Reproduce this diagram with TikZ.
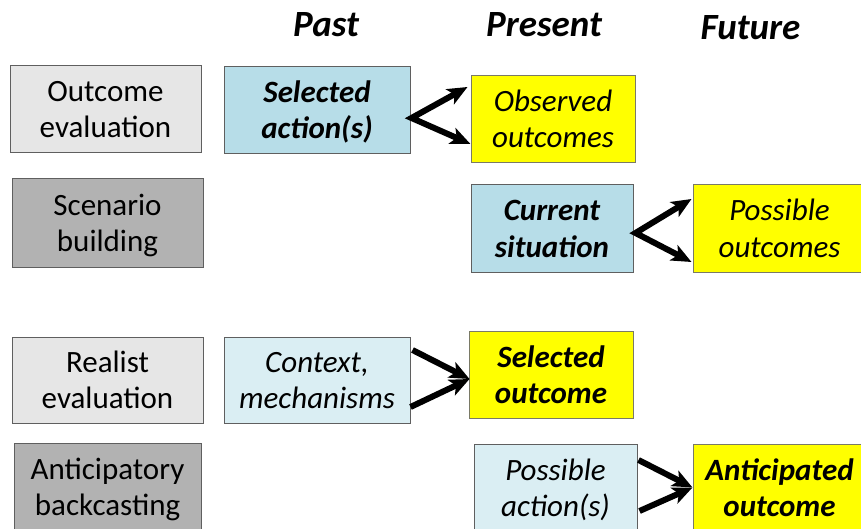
\documentclass[tikz,border=0pt]{standalone}
\usepackage{fontspec}
\setmainfont{Carlito}
\usetikzlibrary{arrows.meta}
\definecolor{lgray}{HTML}{E6E6E6}
\definecolor{dgray}{HTML}{B2B2B2}
\definecolor{mblue}{HTML}{B7DDE8}
\definecolor{lblue}{HTML}{DAEEF3}
\definecolor{ylw}{HTML}{FFFF00}
\definecolor{bord}{HTML}{5F5F5F}
\definecolor{ybord}{HTML}{7A7A66}
\newcommand{\twol}[2]{\rule{0pt}{29pt}#1\\#2\rule[-8pt]{0pt}{0pt}}
\tikzset{
  box/.style={draw=bord, line width=1pt, inner sep=0pt, align=center,
    font=\fontsize{31}{36}\selectfont},
  ybox/.style={box, draw=ybord, fill=ylw},
  bi/.style={font=\fontsize{31}{36}\selectfont\bfseries\itshape},
  it/.style={font=\fontsize{31}{36}\selectfont\itshape},
  hdr/.style={anchor=base, inner sep=0pt, font=\fontsize{37}{40}\selectfont\bfseries\itshape},
  tip/.style={Stealth[length=20pt,width=17pt,inset=5pt]},
  arr/.style={line width=6pt, -{Stealth[length=20pt,width=17pt,inset=5pt]}},
  dbl/.style={line width=6pt, {Stealth[length=20pt,width=17pt,inset=5pt]}-{Stealth[length=20pt,width=17pt,inset=5pt]}, line join=miter}
}
\begin{document}
\begin{tikzpicture}[x=1pt,y=-1pt]
\useasboundingbox (0,0) rectangle (861,529);
\clip (0,0) rectangle (861,529);
% headers
\node[hdr] (past) at (326,37) {Past};
\node[hdr] (present) at (544,37) {Present};
\node[hdr] (future) at (750.5,39.5) {Future};
% row 1
\node[box, fill=lgray, minimum width=191pt, minimum height=87pt] (oe) at (105.5,109.5) {\twol{Outcome}{evaluation}};
\node[box, bi, fill=mblue, minimum width=186pt, minimum height=87pt] (sa) at (317,110.5) {\twol{Selected}{action(s)}};
\node[ybox, it, minimum width=164pt, minimum height=87pt] (oo) at (553,119.5) {\twol{Observed}{outcomes}};
% row 2
\node[box, fill=dgray, minimum width=191pt, minimum height=88pt] (sb) at (107.5,223) {\twol{Scenario}{building}};
\node[box, bi, fill=mblue, minimum width=162pt, minimum height=87pt] (cs) at (552,228.5) {\twol{Current}{situation}};
\node[ybox, it, minimum width=173pt, minimum height=87pt] (po) at (779.5,228.5) {\twol{Possible}{outcomes}};
% row 3
\node[box, fill=lgray, minimum width=191pt, minimum height=86pt] (re) at (107.5,380) {\twol{Realist}{evaluation}};
\node[box, it, fill=lblue, minimum width=186pt, minimum height=86pt] (cm) at (317,380) {\twol{Context,}{mechanisms}};
\node[ybox, bi, minimum width=164pt, minimum height=87pt] (so) at (551,374.5) {\twol{Selected}{outcome}};
% row 4
\node[box, fill=dgray, minimum width=187pt, minimum height=87pt] (ab) at (107.5,486.5) {\twol{Anticipatory}{backcasting}};
\node[box, it, fill=lblue, minimum width=163pt, minimum height=87pt] (pa) at (555.5,487.5) {\twol{Possible}{action(s)}};
\node[ybox, bi, minimum width=173pt, minimum height=87pt] (ao) at (779.5,487.5) {\twol{Anticipated}{outcome}};
% connectors
\draw[dbl] ([shift={(-3,-32.5)}]oo.west) -- ([shift={(1,7.5)}]sa.east) -- ([shift={(0,24.5)}]oo.west);
\draw[dbl] ([shift={(-1,-29.5)}]po.west) -- ([shift={(2,4.5)}]cs.east) -- ([shift={(-1,33.5)}]po.west);
\draw[arr] ([shift={(2,-30)}]cm.east) -- ([shift={(1,4.5)}]so.west);
\draw[arr] ([shift={(0,27)}]cm.east) -- ([shift={(1,4.5)}]so.west);
\draw[arr] ([shift={(1,-27.5)}]pa.east) -- ([shift={(0,0)}]ao.west);
\draw[arr] ([shift={(2,23.5)}]pa.east) -- ([shift={(0,0)}]ao.west);
\end{tikzpicture}
\end{document}
